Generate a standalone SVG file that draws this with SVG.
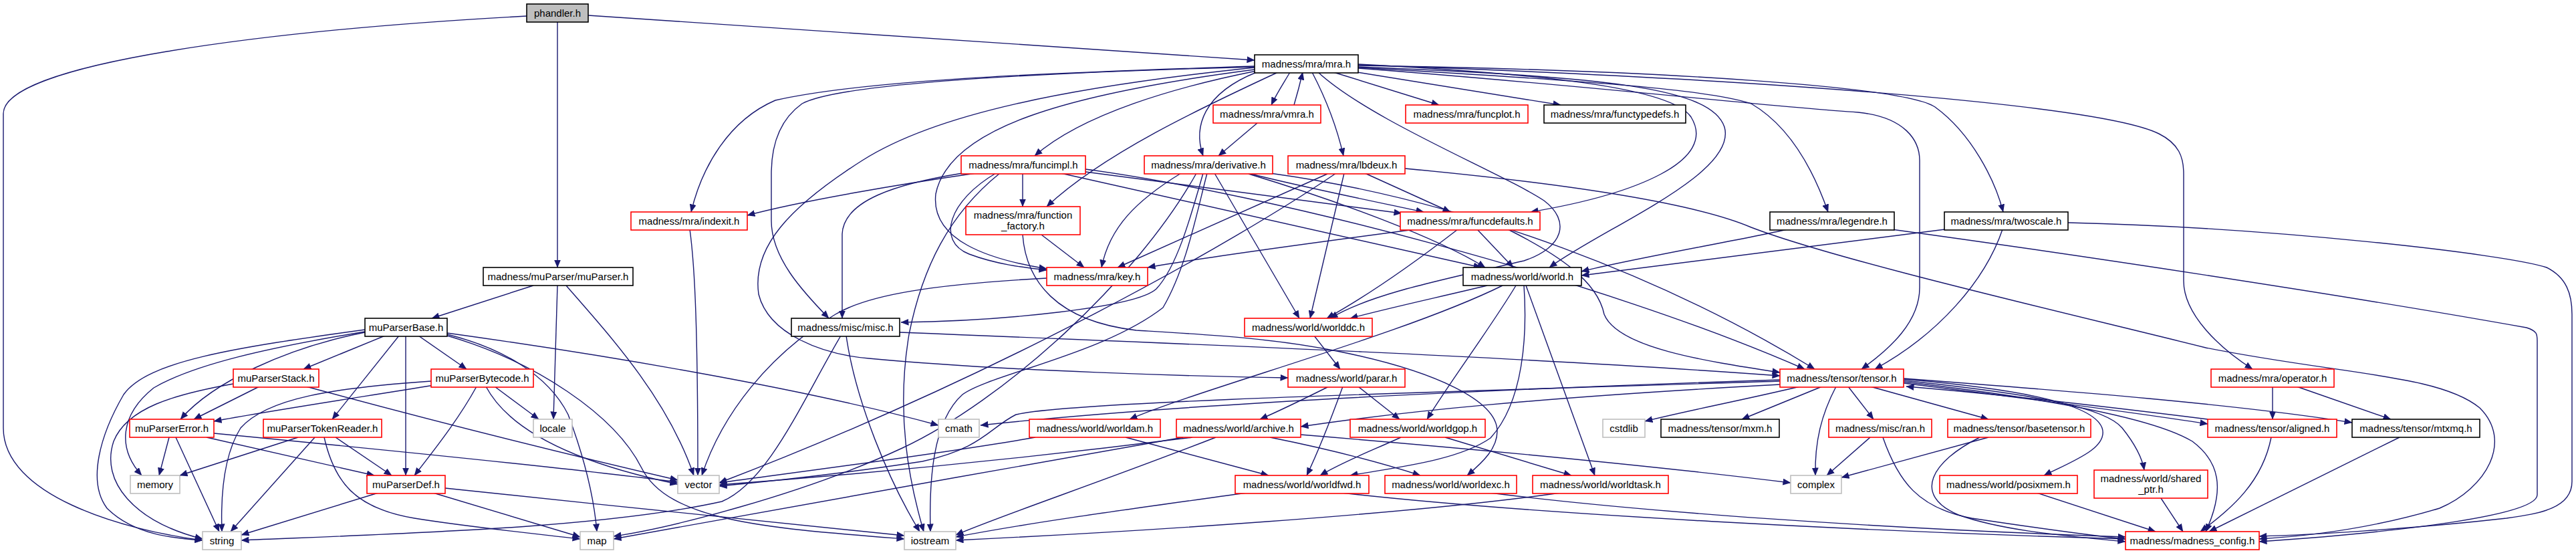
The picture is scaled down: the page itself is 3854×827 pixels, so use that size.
<svg xmlns="http://www.w3.org/2000/svg" width="3854" height="827" viewBox="0 0 3854 827">
<defs>
<marker id="ah" viewBox="0 0 12 10" refX="11.5" refY="5" markerWidth="12" markerHeight="10" markerUnits="userSpaceOnUse" orient="auto"><path d="M0,0L12,5L0,10z" fill="#191970"/></marker>
</defs>
<style>
.e path{fill:none;stroke:#191970;stroke-width:1.4;marker-end:url(#ah)}
.n rect{fill:#fff;stroke-width:1.6}
.r rect{stroke:#ff0000}
.k rect{stroke:#000}
.g rect{stroke:#bfbfbf}
.s rect{fill:#bfbfbf;stroke:#000}
text{font-family:"Liberation Sans",Arial,sans-serif;font-size:15px;fill:#000;text-anchor:middle}
</style>
<rect width="3854" height="827" fill="#fff"/>
<g id="edges" class="e">
<path d="M788,24 C400,45 5,95 5,170 L5,640 C5,740 180,792 303,808"/>
<path d="M880,23 C1300,50 1700,78 1877,90"/>
<path d="M834,33 L834,400"/>
<path d="M1877,99 C1600,108 1300,118 1160,150 C1090,180 1050,250 1034,317"/>
<path d="M1880,106 C1760,130 1620,170 1548,233"/>
<path d="M1912,108 C1800,160 1650,230 1566,309"/>
<path d="M1877,104 C1600,140 1420,190 1400,290 C1392,360 1480,388 1566,402"/>
<path d="M1877,100 C1500,110 1250,128 1200,155 C1165,180 1154,220 1154,260 L1154,330 C1154,385 1200,435 1240,476"/>
<path d="M1930,108 C1920,125 1910,140 1902,157"/>
<path d="M1936,157 C1941,140 1945,125 1949,108"/>
<path d="M1880,108 C1800,140 1785,190 1800,233"/>
<path d="M1963,108 C1985,150 2000,190 2010,233"/>
<path d="M1995,108 L2153,157"/>
<path d="M2030,108 L2335,157"/>
<path d="M2032,96 C2300,110 2500,130 2530,175 C2570,240 2450,290 2290,317"/>
<path d="M2032,100 C2400,115 2560,130 2580,190 C2600,260 2400,340 2318,400"/>
<path d="M2032,101 C2400,122 2560,135 2620,155 C2680,190 2715,260 2735,317"/>
<path d="M2032,98 C2500,105 2850,130 2895,160 C2950,200 2985,270 2997,317"/>
<path d="M2032,102 C2400,130 2650,160 2780,168 C2850,175 2872,210 2872,240 L2872,430 C2872,480 2830,520 2785,552"/>
<path d="M2032,97 C2700,120 3150,160 3230,200 C3260,215 3267,235 3267,260 L3267,420 C3267,470 3320,520 3370,552"/>
<path d="M1877,101 C1600,130 1400,170 1290,240 C1180,310 1125,370 1135,440 C1150,500 1230,530 1300,536 C1500,555 1800,563 1927,565"/>
<path d="M1972,108 C2050,180 2250,260 2310,300 C2350,330 2340,370 2280,390 C2150,420 2050,440 1990,476"/>
<path d="M1881,184 L1823,233"/>
<path d="M1460,259 C1350,275 1200,300 1118,322"/>
<path d="M1440,259 C1340,275 1262,300 1260,350 L1260,476"/>
<path d="M1530,259 L1530,309"/>
<path d="M1490,259 C1420,300 1400,360 1450,380 C1490,395 1530,400 1566,404"/>
<path d="M1496,259 C1420,320 1380,400 1360,500 C1340,620 1360,720 1382,795"/>
<path d="M1624,257 L2097,319"/>
<path d="M1587,259 L2216,400"/>
<path d="M1624,253 C1900,290 2400,420 2700,552"/>
<path d="M1767,259 C1700,300 1660,340 1648,400"/>
<path d="M1867,259 C1950,280 2050,300 2130,317"/>
<path d="M1868,260 C2000,300 2150,355 2222,400"/>
<path d="M1900,259 C2200,300 2500,420 2715,552"/>
<path d="M1806,259 C1790,320 1775,400 1740,460 C1650,530 1480,560 1440,590 C1395,630 1390,720 1392,795"/>
<path d="M1817,259 L1944,476"/>
<path d="M1800,259 C1780,330 1760,400 1730,432 C1700,460 1500,480 1348,482"/>
<path d="M1790,259 C1700,420 1500,600 1350,670 C1200,740 1000,790 918,802"/>
<path d="M1986,260 L1672,400"/>
<path d="M2042,259 L2170,317"/>
<path d="M2011,259 L1960,476"/>
<path d="M1999,259 C1850,360 1500,560 1076,722"/>
<path d="M2102,252 C2400,280 2550,310 2620,340 C2750,390 3100,470 3300,520 C3500,560 3650,560 3710,610 C3760,660 3720,730 3650,760 C3550,790 3450,802 3380,806"/>
<path d="M1558,351 L1622,400"/>
<path d="M1530,351 C1535,420 1580,480 1700,494 C1800,500 1900,505 2000,525 C2150,555 2240,600 2240,645 C2240,670 2220,690 2195,711"/>
<path d="M1032,343 C1040,400 1044,500 1044,711"/>
<path d="M2117,343 C1950,365 1800,385 1717,400"/>
<path d="M2210,343 L2264,400"/>
<path d="M2181,343 C2120,390 2050,440 1985,476"/>
<path d="M2256,343 C2330,380 2390,420 2400,470 C2420,520 2550,540 2663,557"/>
<path d="M2674,343 C2600,360 2450,385 2366,406"/>
<path d="M2830,343 C3100,380 3500,440 3780,490 C3796,495 3796,500 3796,510 L3796,740 C3796,770 3600,795 3380,810"/>
<path d="M2910,343 C2700,370 2500,395 2366,412"/>
<path d="M2996,343 C2970,420 2900,500 2805,552"/>
<path d="M3094,333 C3400,340 3750,380 3810,400 C3840,415 3848,440 3848,470 L3848,720 C3848,760 3800,768 3750,775 C3600,792 3450,800 3380,802"/>
<path d="M2225,427 C2150,445 2080,460 2020,476"/>
<path d="M2248,427 C2100,500 1800,580 1690,627"/>
<path d="M2268,427 C2230,490 2170,570 2135,627"/>
<path d="M2280,427 C2285,500 2280,600 2230,655 C2180,690 2080,700 2020,711"/>
<path d="M2283,427 L2386,711"/>
<path d="M1966,502 L2005,552"/>
<path d="M1988,578 C1950,597 1920,612 1885,627"/>
<path d="M2032,578 L2094,627"/>
<path d="M2009,578 C1990,630 1970,680 1955,711"/>
<path d="M1549,654 C1400,680 1200,705 1076,722"/>
<path d="M1684,654 L1898,711"/>
<path d="M1784,654 C1500,690 1250,712 1076,725"/>
<path d="M1819,654 C1650,720 1500,770 1430,800"/>
<path d="M1770,654 C1500,700 1100,775 918,806"/>
<path d="M1900,654 C1980,670 2060,690 2125,711"/>
<path d="M1946,650 C2250,675 2500,700 2679,722"/>
<path d="M2096,654 C2050,675 2010,690 1975,711"/>
<path d="M2162,654 L2351,711"/>
<path d="M1865,737 C1700,760 1550,780 1430,803"/>
<path d="M2007,737 C2300,770 2800,795 3180,806"/>
<path d="M2229,737 C2450,765 2800,790 3180,803"/>
<path d="M2335,737 C2100,770 1700,795 1430,808"/>
<path d="M1258,502 C1200,600 1150,720 1080,750 C900,790 600,798 361,808"/>
<path d="M1266,502 C1280,600 1330,720 1376,795"/>
<path d="M1346,497 C1800,515 2300,535 2663,562"/>
<path d="M1566,416 C1400,425 1300,440 1250,470 C1150,530 1080,620 1050,711"/>
<path d="M2663,568 C2300,580 1800,600 1467,636"/>
<path d="M2663,570 C2200,585 1600,600 1520,620 C1480,640 1470,670 1380,690 C1250,710 1150,720 1076,727"/>
<path d="M2663,575 C2300,595 2100,615 1946,638"/>
<path d="M2693,578 C2600,600 2520,615 2461,630"/>
<path d="M2726,578 L2606,627"/>
<path d="M2747,578 C2725,620 2715,660 2716,711"/>
<path d="M2765,578 L2803,627"/>
<path d="M2798,578 L2975,627"/>
<path d="M2848,567 C3000,580 3130,600 3145,640 C3155,670 3100,690 3058,711"/>
<path d="M2848,569 C3050,590 3150,610 3175,640 C3195,665 3205,685 3208,703"/>
<path d="M2848,573 C3050,598 3200,618 3303,634"/>
<path d="M3303,627 C3150,608 3000,590 2852,578"/>
<path d="M2848,566 C3100,585 3350,605 3519,632"/>
<path d="M2848,571 C3100,600 3230,630 3280,660 C3320,690 3330,730 3300,795"/>
<path d="M2798,654 L2733,711"/>
<path d="M2817,654 C2840,720 2870,760 2950,775 C3050,790 3120,800 3180,806"/>
<path d="M2975,654 L2755,714"/>
<path d="M2962,654 C2890,690 2860,740 2930,770 C3000,795 3100,802 3180,810"/>
<path d="M3047,737 L3225,795"/>
<path d="M3233,745 L3266,795"/>
<path d="M3398,654 C3385,720 3340,760 3292,795"/>
<path d="M3590,654 L3305,795"/>
<path d="M3400,578 L3400,627"/>
<path d="M3436,578 L3577,627"/>
<path d="M798,427 L646,476"/>
<path d="M834,427 L828,627"/>
<path d="M847,427 C920,510 1000,600 1038,711"/>
<path d="M546,493 C350,520 220,540 185,590 C150,650 130,720 160,760 C200,800 260,805 303,808"/>
<path d="M546,496 C400,520 290,545 230,580 C180,620 175,670 212,711"/>
<path d="M546,497 C430,520 320,570 270,627"/>
<path d="M576,502 L454,552"/>
<path d="M597,502 L497,627"/>
<path d="M607,502 L607,711"/>
<path d="M626,502 L698,552"/>
<path d="M669,498 C900,530 1200,580 1404,636"/>
<path d="M669,500 C750,520 820,560 850,620 C880,700 890,760 893,795"/>
<path d="M669,502 C800,540 920,620 960,700 C1000,780 1150,790 1353,806"/>
<path d="M388,578 L290,627"/>
<path d="M349,574 C260,590 190,610 170,660 C150,720 200,780 303,806"/>
<path d="M458,578 C650,630 850,680 1014,718"/>
<path d="M650,576 C500,600 400,615 320,630"/>
<path d="M645,570 C500,580 400,595 360,640 C335,680 330,740 332,795"/>
<path d="M713,578 C690,620 660,660 620,711"/>
<path d="M727,578 C760,640 850,690 1014,724"/>
<path d="M740,578 L806,627"/>
<path d="M253,654 L238,711"/>
<path d="M263,654 L328,795"/>
<path d="M309,654 L560,711"/>
<path d="M320,648 C600,675 850,700 1014,721"/>
<path d="M446,654 L269,711"/>
<path d="M471,654 L345,795"/>
<path d="M502,654 L586,711"/>
<path d="M485,654 C500,720 530,760 620,775 C700,788 800,798 868,806"/>
<path d="M566,737 L361,800"/>
<path d="M648,737 L868,803"/>
<path d="M666,730 C900,755 1200,785 1353,801"/>
</g>
<g id="n-phandler" class="n s"><rect x="788" y="6" width="92" height="27"/><text x="834" y="25">phandler.h</text></g>
<g id="n-mra" class="n k"><rect x="1877" y="82" width="155" height="27"/><text x="1954.5" y="101">madness/mra/mra.h</text></g>
<g id="n-vmra" class="n r"><rect x="1815" y="157" width="161" height="27"/><text x="1895.5" y="176">madness/mra/vmra.h</text></g>
<g id="n-funcplot" class="n r"><rect x="2103" y="157" width="183" height="27"/><text x="2194.5" y="176">madness/mra/funcplot.h</text></g>
<g id="n-functypedefs" class="n k"><rect x="2310" y="157" width="212" height="27"/><text x="2416" y="176">madness/mra/functypedefs.h</text></g>
<g id="n-funcimpl" class="n r"><rect x="1438" y="233" width="186" height="27"/><text x="1531" y="252">madness/mra/funcimpl.h</text></g>
<g id="n-derivative" class="n r"><rect x="1712" y="233" width="192" height="27"/><text x="1808" y="252">madness/mra/derivative.h</text></g>
<g id="n-lbdeux" class="n r"><rect x="1927" y="233" width="175" height="27"/><text x="2014.5" y="252">madness/mra/lbdeux.h</text></g>
<g id="n-function_factory" class="n r"><rect x="1445" y="309" width="171" height="42"/><text x="1530.5" y="327">madness/mra/function</text><text x="1530.5" y="343">_factory.h</text></g>
<g id="n-indexit" class="n r"><rect x="944" y="317" width="174" height="27"/><text x="1031" y="336">madness/mra/indexit.h</text></g>
<g id="n-funcdefaults" class="n r"><rect x="2095" y="317" width="209" height="27"/><text x="2199.5" y="336">madness/mra/funcdefaults.h</text></g>
<g id="n-legendre" class="n k"><rect x="2648" y="317" width="186" height="27"/><text x="2741" y="336">madness/mra/legendre.h</text></g>
<g id="n-twoscale" class="n k"><rect x="2909" y="317" width="185" height="27"/><text x="3001.5" y="336">madness/mra/twoscale.h</text></g>
<g id="n-muParser" class="n k"><rect x="723" y="400" width="224" height="27"/><text x="835" y="419">madness/muParser/muParser.h</text></g>
<g id="n-key" class="n r"><rect x="1566" y="400" width="151" height="27"/><text x="1641.5" y="419">madness/mra/key.h</text></g>
<g id="n-world" class="n k"><rect x="2189" y="400" width="177" height="27"/><text x="2277.5" y="419">madness/world/world.h</text></g>
<g id="n-muParserBase" class="n k"><rect x="546" y="476" width="123" height="27"/><text x="607.5" y="495">muParserBase.h</text></g>
<g id="n-misc" class="n k"><rect x="1184" y="476" width="162" height="27"/><text x="1265" y="495">madness/misc/misc.h</text></g>
<g id="n-worlddc" class="n r"><rect x="1862" y="476" width="191" height="27"/><text x="1957.5" y="495">madness/world/worlddc.h</text></g>
<g id="n-muParserStack" class="n r"><rect x="349" y="552" width="128" height="27"/><text x="413" y="571">muParserStack.h</text></g>
<g id="n-muParserBytecode" class="n r"><rect x="645" y="552" width="153" height="27"/><text x="721.5" y="571">muParserBytecode.h</text></g>
<g id="n-parar" class="n r"><rect x="1927" y="552" width="175" height="27"/><text x="2014.5" y="571">madness/world/parar.h</text></g>
<g id="n-tensor" class="n r"><rect x="2663" y="552" width="185" height="27"/><text x="2755.5" y="571">madness/tensor/tensor.h</text></g>
<g id="n-operator" class="n r"><rect x="3308" y="552" width="184" height="27"/><text x="3400" y="571">madness/mra/operator.h</text></g>
<g id="n-muParserError" class="n r"><rect x="194" y="627" width="126" height="27"/><text x="257" y="646">muParserError.h</text></g>
<g id="n-muParserTokenReader" class="n r"><rect x="394" y="627" width="177" height="27"/><text x="482.5" y="646">muParserTokenReader.h</text></g>
<g id="n-locale" class="n g"><rect x="798" y="627" width="58" height="27"/><text x="827" y="646">locale</text></g>
<g id="n-cmath" class="n g"><rect x="1404" y="627" width="61" height="27"/><text x="1434.5" y="646">cmath</text></g>
<g id="n-worldam" class="n r"><rect x="1540" y="627" width="196" height="27"/><text x="1638" y="646">madness/world/worldam.h</text></g>
<g id="n-archive" class="n r"><rect x="1760" y="627" width="186" height="27"/><text x="1853" y="646">madness/world/archive.h</text></g>
<g id="n-worldgop" class="n r"><rect x="2020" y="627" width="202" height="27"/><text x="2121" y="646">madness/world/worldgop.h</text></g>
<g id="n-cstdlib" class="n g"><rect x="2398" y="627" width="63" height="27"/><text x="2429.5" y="646">cstdlib</text></g>
<g id="n-mxm" class="n k"><rect x="2485" y="627" width="177" height="27"/><text x="2573.5" y="646">madness/tensor/mxm.h</text></g>
<g id="n-ran" class="n r"><rect x="2736" y="627" width="154" height="27"/><text x="2813" y="646">madness/misc/ran.h</text></g>
<g id="n-basetensor" class="n r"><rect x="2914" y="627" width="214" height="27"/><text x="3021" y="646">madness/tensor/basetensor.h</text></g>
<g id="n-aligned" class="n r"><rect x="3303" y="627" width="193" height="27"/><text x="3399.5" y="646">madness/tensor/aligned.h</text></g>
<g id="n-mtxmq" class="n k"><rect x="3519" y="627" width="191" height="27"/><text x="3614.5" y="646">madness/tensor/mtxmq.h</text></g>
<g id="n-memory" class="n g"><rect x="195" y="711" width="74" height="27"/><text x="232" y="730">memory</text></g>
<g id="n-muParserDef" class="n r"><rect x="549" y="711" width="117" height="27"/><text x="607.5" y="730">muParserDef.h</text></g>
<g id="n-vector" class="n g"><rect x="1014" y="711" width="62" height="27"/><text x="1045" y="730">vector</text></g>
<g id="n-worldfwd" class="n r"><rect x="1848" y="711" width="200" height="27"/><text x="1948" y="730">madness/world/worldfwd.h</text></g>
<g id="n-worldexc" class="n r"><rect x="2072" y="711" width="197" height="27"/><text x="2170.5" y="730">madness/world/worldexc.h</text></g>
<g id="n-worldtask" class="n r"><rect x="2293" y="711" width="203" height="27"/><text x="2394.5" y="730">madness/world/worldtask.h</text></g>
<g id="n-complex" class="n g"><rect x="2679" y="711" width="76" height="27"/><text x="2717" y="730">complex</text></g>
<g id="n-posixmem" class="n r"><rect x="2902" y="711" width="206" height="27"/><text x="3005" y="730">madness/world/posixmem.h</text></g>
<g id="n-shared_ptr" class="n r"><rect x="3133" y="703" width="170" height="42"/><text x="3218" y="721">madness/world/shared</text><text x="3218" y="737">_ptr.h</text></g>
<g id="n-string" class="n g"><rect x="303" y="795" width="58" height="27"/><text x="332" y="814">string</text></g>
<g id="n-map" class="n g"><rect x="868" y="795" width="50" height="27"/><text x="893" y="814">map</text></g>
<g id="n-iostream" class="n g"><rect x="1353" y="795" width="77" height="27"/><text x="1391.5" y="814">iostream</text></g>
<g id="n-madness_config" class="n r"><rect x="3180" y="795" width="200" height="27"/><text x="3280" y="814">madness/madness_config.h</text></g>
</svg>
